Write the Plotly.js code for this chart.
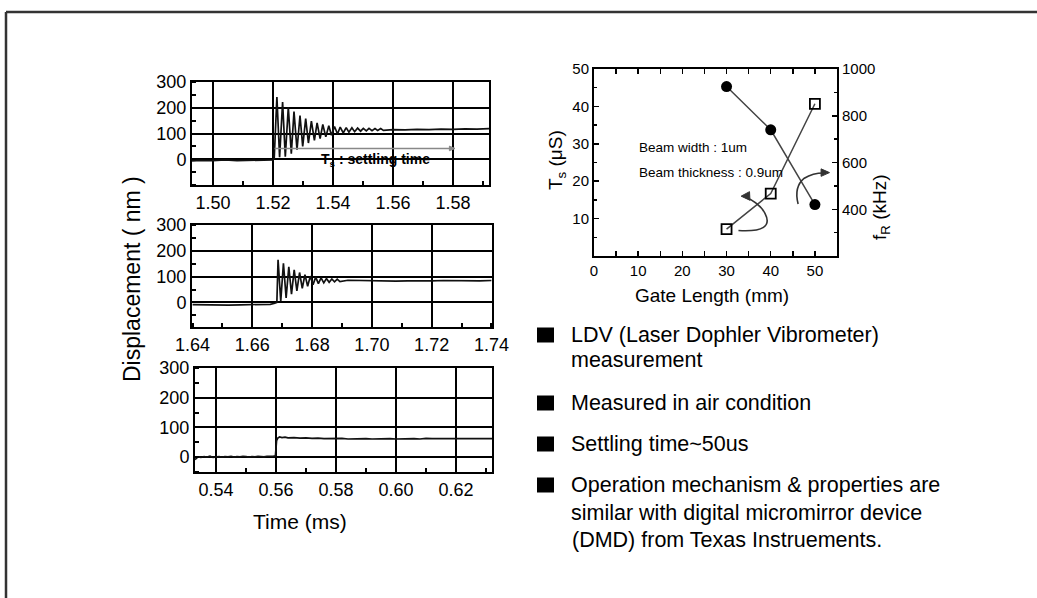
<!DOCTYPE html>
<html>
<head>
<meta charset="utf-8">
<script src="https://cdn.plot.ly/plotly-3.0.1.min.js"></script>
<style>html,body{margin:0;padding:0;background:#fff;}#chart{width:1037px;height:598px;}</style>
</head>
<body>
<div id="chart"></div>
<script>
// ---------- Data ----------
// Panel 1 : step response (time in ms, displacement in nm)
const time1 = [1.4930,1.4960,1.5000,1.5040,1.5080,1.5120,1.5160,1.5200,1.5204,
  1.5213,1.5222,1.5232,1.5241,1.5251,1.5261,1.5270,1.5280,1.5290,1.5299,1.5309,1.5318,
  1.5328,1.5338,1.5347,1.5357,1.5366,1.5376,1.5386,1.5395,1.5405,1.5415,1.5424,1.5434,
  1.5444,1.5453,1.5463,1.5472,1.5482,1.5492,1.5501,1.5511,1.5520,1.5530,1.5540,1.5549,
  1.5559,1.5568,1.5600,1.5640,1.5680,1.5720,1.5760,1.5800,1.5840,1.5880,1.5920];
const disp1 = [-6,-4,-5,-3,-5,-4,-5,-3,2,
  242,8,222,10,202,22,185,37,170,50,158,63,
  148,73,141,80,135,87,130,93,127,98,125,102,
  123,105,122,107,121,109,120,110,120,111,119,112,
  119,112,115,114,116,115,117,116,118,117,119];

// Panel 2
const time2 = [1.6400,1.6440,1.6480,1.6520,1.6560,1.6600,1.6640,1.6660,1.6675,1.6682,
  1.6686,1.6695,1.6704,1.6713,1.6722,1.6731,1.6740,1.6749,1.6758,1.6767,1.6776,1.6785,
  1.6794,1.6803,1.6812,1.6821,1.6830,1.6839,1.6848,1.6857,1.6866,1.6875,1.6884,1.6893,
  1.6920,1.6960,1.7000,1.7040,1.7080,1.7120,1.7160,1.7200,1.7240,1.7280,1.7320,1.7360,1.7400];
const disp2 = [-8,-9,-8,-10,-9,-9,-8,-7,-3,0,
  165,5,152,18,138,32,126,45,116,55,108,63,
  102,69,98,73,95,76,93,78,91,80,90,81,
  86,85,84,84,83,84,83,84,85,84,85,84,85];

// Panel 3
const time3 = [0.5330,0.5335,0.5340,0.5350,0.5360,0.5370,0.5380,0.5390,0.5400,0.5410,0.5420,
  0.5430,0.5440,0.5450,0.5460,0.5470,0.5480,0.5490,0.5500,0.5510,0.5520,0.5530,0.5540,
  0.5550,0.5560,0.5570,0.5580,0.5590,0.5598,0.5602,0.5606,0.5612,0.5620,0.5630,0.5640,
  0.5660,0.5680,0.5700,0.5720,0.5740,0.5760,0.5780,0.5800,0.5820,0.5840,0.5860,0.5880,
  0.5900,0.5920,0.5940,0.5960,0.5980,0.6000,0.6020,0.6040,0.6060,0.6080,0.6100,0.6120,
  0.6140,0.6160,0.6180,0.6200,0.6220,0.6240,0.6260,0.6280,0.6300,0.6320];
const disp3 = [-8,-2,1,-1,2,0,3,-1,1,2,0,
  2,1,3,0,2,1,3,2,0,2,1,3,
  2,1,3,2,3,4,56,64,68,66,67,65,
  66,64,65,63,64,62,63,62,63,61,62,63,
  62,61,62,63,62,61,62,63,62,61,63,62,
  62,63,62,61,62,63,62,61,62,62];

// Settling-time marker in panel 1 (start, end in ms; level in nm)
const settleStart = 1.5205, settleEnd = 1.5806, settleLevel = 42;

// Right chart : gate length dependence
const gateLength = [30, 40, 50];
const settlingTime = [7.2, 16.7, 40.7];   // T_s (uS), left axis, open squares
const resonanceFreq = [925, 740, 420];    // f_R (kHz), right axis, filled circles

const ticks1 = [1.50, 1.52, 1.54, 1.56, 1.58];
const ticks2 = [1.64, 1.66, 1.68, 1.70, 1.72, 1.74];
const ticks3 = [0.54, 0.56, 0.58, 0.60, 0.62];
const dispTicks = [0, 100, 200, 300];

const bullets = [
  "LDV (Laser Dophler Vibrometer)", "measurement",
  "Measured in air condition",
  "Settling time~50us",
  "Operation mechanism & properties are",
  "similar with digital micromirror device",
  "(DMD) from Texas Instruements."
];

// ---------- Layout helpers ----------
const W = 1037, H = 598;
const FONT = "Liberation Sans, Arial, sans-serif";
const px = v => v / W;
const py = v => 1 - v / H;

function panelX(dom, range, tv, minorD, minor0) {
  return {domain: dom, range: range, tickmode: 'array', tickvals: tv,
    ticktext: tv.map(v => v.toFixed(2)),
    showgrid: true, gridcolor: '#000', gridwidth: 2, zeroline: false,
    showline: true, mirror: true, linecolor: '#000', linewidth: 2, ticks: '',
    minor: {ticks: 'inside', ticklen: 4, tickwidth: 2, tickcolor: '#000', dtick: minorD, tick0: minor0, showgrid: false},
    tickfont: {family: FONT, size: 18, color: '#000'}, fixedrange: true};
}
function panelY(dom, range) {
  return {domain: dom, range: range, tickmode: 'array', tickvals: dispTicks,
    showgrid: true, gridcolor: '#000', gridwidth: 2, zeroline: false,
    showline: true, mirror: true, linecolor: '#000', linewidth: 2, ticks: '',
    minor: {ticks: 'inside', ticklen: 4, tickwidth: 2, tickcolor: '#000', dtick: 50, tick0: 0, showgrid: false},
    tickfont: {family: FONT, size: 18, color: '#000'}, fixedrange: true};
}

const lineStyle = {color: '#111', width: 1.7};
const traces = [
  {x: time1, y: disp1, xaxis: 'x', yaxis: 'y', mode: 'lines', line: lineStyle, showlegend: false},
  {x: time2, y: disp2, xaxis: 'x2', yaxis: 'y2', mode: 'lines', line: lineStyle, showlegend: false},
  {x: time3, y: disp3, xaxis: 'x3', yaxis: 'y3', mode: 'lines', line: lineStyle, showlegend: false},
  {x: gateLength, y: settlingTime, xaxis: 'x4', yaxis: 'y4', mode: 'lines+markers', name: 'T_s',
    line: {color: '#444', width: 1.5},
    marker: {symbol: 'square-open', size: 10, color: '#000', line: {width: 1.8, color: '#000'}}, showlegend: false},
  {x: gateLength, y: resonanceFreq, xaxis: 'x4', yaxis: 'y5', mode: 'lines+markers', name: 'f_R',
    line: {color: '#444', width: 1.5},
    marker: {symbol: 'circle', size: 11, color: '#000'}, showlegend: false}
];

const axRight = {
  showline: true, linecolor: '#000', linewidth: 2, zeroline: false, showgrid: false,
  ticks: 'inside', ticklen: 5, tickwidth: 1.5, tickcolor: '#000',
  tickfont: {family: FONT, size: 15, color: '#000'}, fixedrange: true
};

const annFont = (s, b) => ({family: FONT, size: s, color: '#000', weight: b ? 'bold' : 'normal'});
const annotations = [
  {xref: 'paper', yref: 'paper', x: px(132), y: py(279), text: 'Displacement ( nm )', textangle: -90,
    showarrow: false, font: annFont(23), xanchor: 'center', yanchor: 'middle'},
  {xref: 'paper', yref: 'paper', x: px(300), y: py(521), text: 'Time (ms)',
    showarrow: false, font: annFont(21), xanchor: 'center', yanchor: 'middle'},
  {xref: 'paper', yref: 'paper', x: px(712), y: py(295), text: 'Gate Length (mm)',
    showarrow: false, font: annFont(19), xanchor: 'center', yanchor: 'middle'},
  {xref: 'paper', yref: 'paper', x: px(557), y: py(160), text: 'T<sub>s</sub> (μS)', textangle: -90,
    showarrow: false, font: annFont(19), xanchor: 'center', yanchor: 'middle'},
  {xref: 'paper', yref: 'paper', x: px(881), y: py(207), text: 'f<sub>R</sub> (kHz)', textangle: -90,
    showarrow: false, font: annFont(19), xanchor: 'center', yanchor: 'middle'},
  {xref: 'x', yref: 'y', x: 1.5540, y: -2, text: '<b>T<sub>s</sub> : settling time</b>',
    showarrow: false, font: annFont(14), xanchor: 'center', yanchor: 'middle'},
  // beam parameters
  {xref: 'x4', yref: 'y4', x: 9.7, y: 28.9, text: 'Beam width : 1um', showarrow: false,
    font: annFont(13.5), xanchor: 'left', yanchor: 'middle'},
  {xref: 'x4', yref: 'y4', x: 9.7, y: 22.2, text: 'Beam thickness : 0.9um', showarrow: false,
    font: annFont(13.5), xanchor: 'left', yanchor: 'middle'}
];
const bulletY = [335, 360, 403, 444, 485, 513, 540];
const bulletX = [569, 569, 569, 569, 569, 569, 570];
bullets.forEach((t, i) => annotations.push({xref: 'paper', yref: 'paper', x: px(bulletX[i]), y: py(bulletY[i]),
  text: t, showarrow: false, font: annFont(21.5), xanchor: 'left', yanchor: 'middle'}));

const shapes = [
  // outer frame (top and left edges)
  {type: 'line', xref: 'paper', yref: 'paper', x0: px(6), y0: py(12), x1: 1, y1: py(12), line: {color: '#333', width: 2.5}},
  {type: 'line', xref: 'paper', yref: 'paper', x0: px(6), y0: py(12), x1: px(6), y1: 0, line: {color: '#333', width: 2.5}},
  // settling-time span in panel 1
  {type: 'line', xref: 'x', yref: 'y', x0: settleStart, x1: settleEnd, y0: settleLevel, y1: settleLevel,
    line: {color: '#888', width: 1.5}},
  {type: 'path', xref: 'x', yref: 'y', path: `M ${settleEnd},${settleLevel} L ${settleEnd - 0.0018},${settleLevel + 9} L ${settleEnd - 0.0018},${settleLevel - 9} Z`,
    fillcolor: '#888', line: {color: '#888', width: 1}},
  // curved arrows in the right chart
  {type: 'path', xref: 'x4', yref: 'y4', path: 'M 32.7,6.8 Q 41,6.2 38.7,11.4 Q 37.5,14.2 34.2,15.8', line: {color: '#333', width: 1.6}},
  {type: 'path', xref: 'x4', yref: 'y4', path: 'M 33.3,16.0 L 35.2,17.2 L 35.3,14.9 Z', fillcolor: '#333', line: {color: '#333', width: 1}},
  {type: 'path', xref: 'x4', yref: 'y4', path: 'M 46.2,13.9 Q 45.2,18.5 47.6,20.8 Q 49.5,22.2 52.0,22.2', line: {color: '#333', width: 1.6}},
  {type: 'path', xref: 'x4', yref: 'y4', path: 'M 53.3,22.3 L 51.4,23.3 L 51.4,21.3 Z', fillcolor: '#333', line: {color: '#333', width: 1}}
];
// bullet squares
bulletY.forEach((y, i) => {
  if ([0, 2, 3, 4].includes(i)) {
    shapes.push({type: 'rect', xref: 'paper', yref: 'paper', x0: px(537), x1: px(554), y0: py(y + 7.5), y1: py(y - 7.5),
      fillcolor: '#000', line: {width: 0}});
  }
});

const layout = {
  width: W, height: H, margin: {l: 0, r: 0, t: 0, b: 0},
  paper_bgcolor: '#fff', plot_bgcolor: '#fff', showlegend: false,
  font: {family: FONT, color: '#000'},
  xaxis: Object.assign(panelX([px(192), px(489)], [1.493, 1.592], ticks1, 0.01, 1.50), {anchor: 'y'}),
  yaxis: Object.assign(panelY([py(185), py(82)], [-100, 300]), {anchor: 'x'}),
  xaxis2: Object.assign(panelX([px(192), px(492)], [1.6398, 1.7402], ticks2, 0.01, 1.64), {anchor: 'y2'}),
  yaxis2: Object.assign(panelY([py(327), py(225)], [-95, 300]), {anchor: 'x2'}),
  xaxis3: Object.assign(panelX([px(195), px(492)], [0.533, 0.632], ticks3, 0.01, 0.54), {anchor: 'y3'}),
  yaxis3: Object.assign(panelY([py(472), py(368)], [-50, 300]), {anchor: 'x3'}),
  xaxis4: Object.assign({}, axRight, {domain: [px(594), px(837)], range: [0, 55], anchor: 'y4',
    tickmode: 'linear', tick0: 0, dtick: 10, mirror: 'allticks',
    minor: {ticks: 'inside', ticklen: 3, tickwidth: 1.5, tickcolor: '#000', dtick: 5, tick0: 0}}),
  yaxis4: Object.assign({}, axRight, {domain: [py(256), py(69)], range: [0, 50], anchor: 'x4',
    tickmode: 'array', tickvals: [10, 20, 30, 40, 50],
    minor: {ticks: 'inside', ticklen: 3, tickwidth: 1.5, tickcolor: '#000', dtick: 5, tick0: 0}}),
  yaxis5: Object.assign({}, axRight, {overlaying: 'y4', side: 'right', anchor: 'x4', range: [200, 1000],
    tickmode: 'array', tickvals: [400, 600, 800, 1000],
    minor: {ticks: 'inside', ticklen: 3, tickwidth: 1.5, tickcolor: '#000', dtick: 100, tick0: 0}}),
  annotations: annotations,
  shapes: shapes
};

Plotly.newPlot('chart', traces, layout, {staticPlot: true, displayModeBar: false});
</script>
</body>
</html>
